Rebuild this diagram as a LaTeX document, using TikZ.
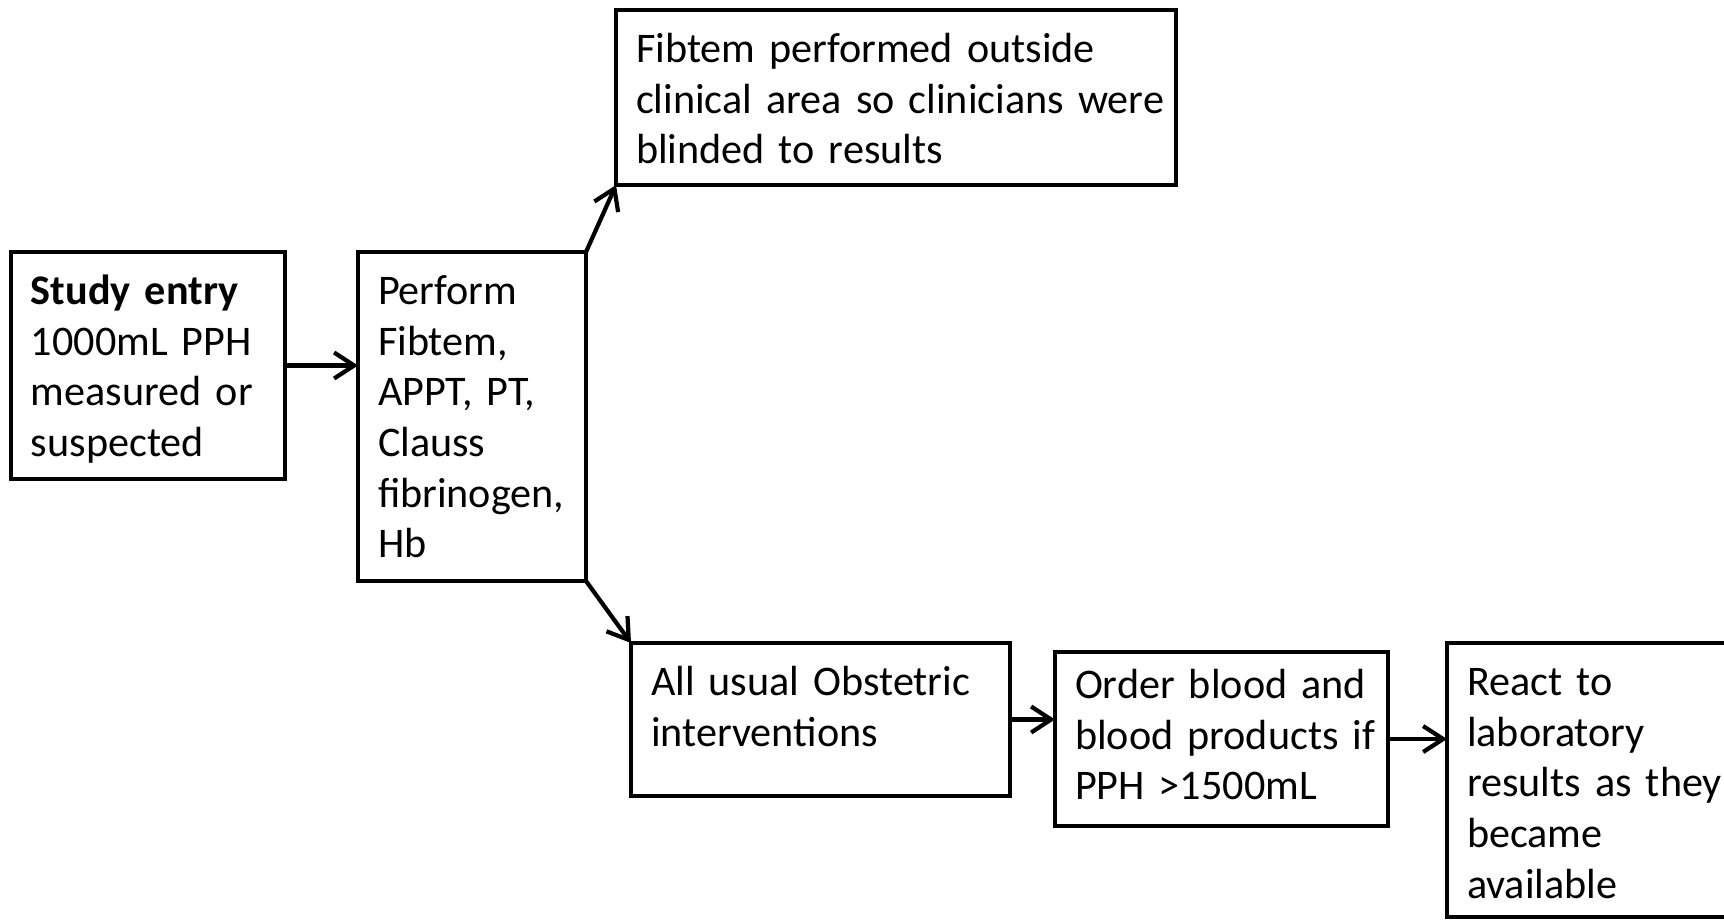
\documentclass[tikz,border=0pt]{standalone}
\usepackage{fontspec}
\setmainfont{Carlito}[WordSpace=0.85]
\usetikzlibrary{arrows.meta, positioning}
\hyphenpenalty=10000
\exhyphenpenalty=10000

\begin{document}
\begin{tikzpicture}[
    node distance=5mm and 5mm,
    box/.style={draw, line width=1.2pt, outer sep=0pt, anchor=north west, align=left, inner xsep=2mm, inner ysep=5pt, text height=10pt, font=\fontsize{12}{14.4}\selectfont},
    arrow/.style={-{Straight Barb[length=2mm, width=2.6mm]}, line width=1.2pt}
]
    \useasboundingbox (0,0) rectangle (172.4mm,-92mm);
    \clip (0,0) rectangle (172.4mm,-92mm);
    \node[box, text width=23.4mm, text depth=15.67mm] (entry) at (1.1mm,-25.2mm) {\textbf{Study entry}\\1000mL PPH\\measured or\\suspected};
    \node[box, text width=18.8mm, text depth=25.87mm, right=7.3mm of entry.north east, anchor=north west] (perform) {Perform\\Fibtem,\\APPT, PT,\\Clauss\\fibrinogen,\\Hb};
    \node[box, text width=52mm, text depth=10.47mm, above right=6.7mm and 3mm of perform.north east, anchor=south west] (fibtem) {Fibtem performed outside\\clinical~area~so~clinicians~were\\blinded to results};
    \node[box, text width=33.9mm, text depth=8.27mm, below right=6.2mm and 4.5mm of perform.south east, anchor=north west] (usual) {All usual Obstetric\\interventions};
    \node[box, text width=29.3mm, text height=8.3pt, text depth=10.97mm, below right=0.9mm and 4.5mm of usual.north east, anchor=north west] (order) {Order blood and\\blood~products~if\\PPH >1500mL};
    \node[box, text width=26mm, text depth=20.37mm, above right=0.9mm and 5.9mm of order.north east, anchor=north west] (react) {React to\\laboratory\\results as they\\became\\available};

    \draw[arrow] (entry.east) -- (entry.east -| perform.west);
    \draw[arrow] (perform.north east) -- (fibtem.south west);
    \draw[arrow] (perform.south east) -- (usual.north west);
    \draw[arrow] (usual.east) -- (usual.east -| order.west);
    \draw[arrow] (order.east) -- (order.east -| react.west);
\end{tikzpicture}
\end{document}
